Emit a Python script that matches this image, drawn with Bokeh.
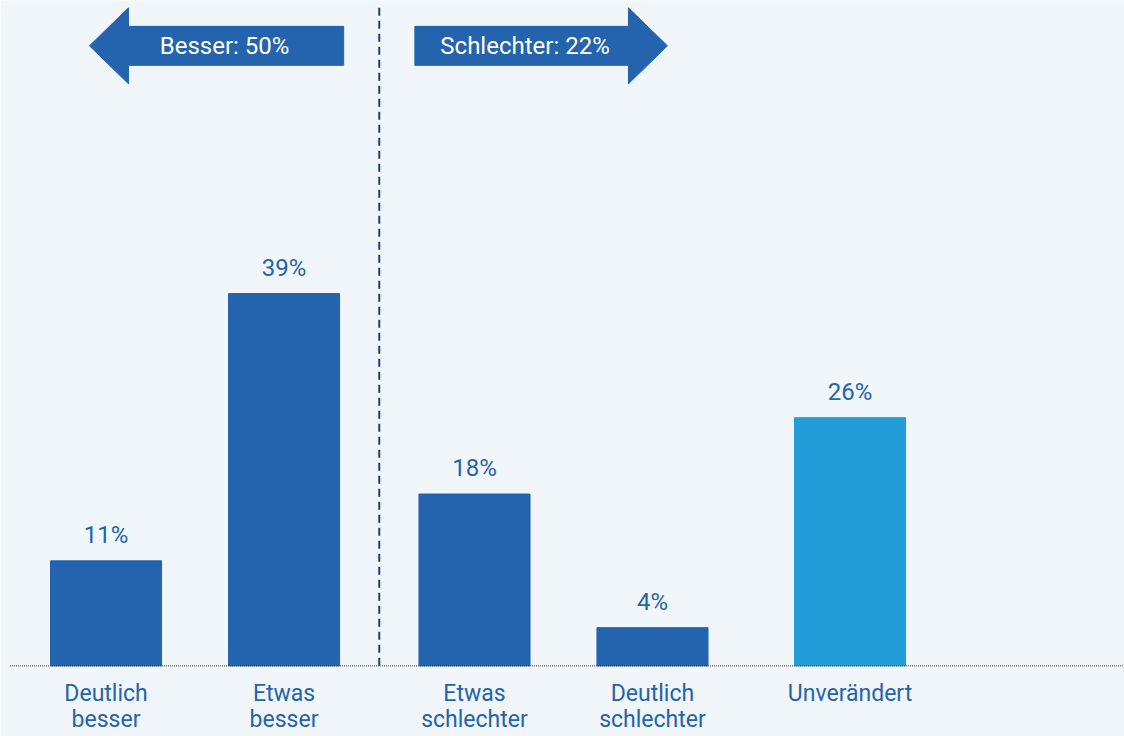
from bokeh.plotting import figure
from bokeh.models import Range1d, ColumnDataSource
from bokeh.core.properties import value
from bokeh.embed import file_html
from bokeh.resources import INLINE

# ---- data ----
categories = ["Deutlich\nbesser", "Etwas\nbesser", "Etwas\nschlechter", "Deutlich\nschlechter", "Unverändert"]
shares = [11, 39, 18, 4, 26]
x_pos = [0.0, 1.0, 2.07, 3.07, 4.18]
bar_colors = ["#2463AD", "#2463AD", "#2463AD", "#2463AD", "#229DD8"]
value_labels = ["11%", "39%", "18%", "4%", "26%"]
summary_labels = ["Besser: 50%", "Schlechter: 22%"]

BG = "#F1F6FB"
DARK = "#2463AD"
FONT = "Roboto"

p = figure(width=1124, height=736, output_backend="svg", toolbar_location=None,
           x_range=Range1d(-0.593, 5.722), y_range=Range1d(-7.4, 69.7),
           min_border=0, background_fill_color=BG, border_fill_color=BG)
p.axis.visible = False
p.grid.visible = False
p.outline_line_color = None

src = ColumnDataSource(dict(x=x_pos, top=shares, color=bar_colors, lab=value_labels, cat=categories))
bar_w = 0.624
p.vbar(x="x", top="top", bottom=0, width=bar_w, color="color", source=src)

# baseline
p.line(x=[x_pos[0] - 0.54, 5.722], y=[0, 0], line_color="#333333", line_width=1, line_dash="1 1")

# divider
div_x = (x_pos[1] + x_pos[2]) / 2
p.line(x=[div_x, div_x], y=[0, 69.2], line_color="#2B3A6E", line_width=2, line_dash="8 5")

# value labels
p.text(x="x", y="top", text="lab", source=src, text_align="center", text_baseline="bottom",
       y_offset=-12, text_font=value(FONT), text_font_size="24px", text_color=DARK)

# category labels
p.text(x="x", y=-1.5, text="cat", source=src, text_align="center", text_baseline="top",
       text_font=value(FONT), text_font_size="23px", text_color=DARK, text_line_height=0.95)

# arrows
yc = 64.95
sh = 2.04
hh = 3.98
l_tip, l_base, l_end = x_pos[0] - 0.093, x_pos[0] + 0.126, div_x - 0.2
r_start, r_base, r_tip = div_x + 0.2, div_x + 1.4, div_x + 1.619
p.patch(x=[l_tip, l_base, l_base, l_end, l_end, l_base, l_base],
        y=[yc, yc + hh, yc + sh, yc + sh, yc - sh, yc - sh, yc - hh], color=DARK)
p.patch(x=[r_tip, r_base, r_base, r_start, r_start, r_base, r_base],
        y=[yc, yc + hh, yc + sh, yc + sh, yc - sh, yc - sh, yc - hh], color=DARK)
p.text(x=[0.666, 2.354], y=[yc, yc], text=summary_labels, text_align="center",
       text_baseline="middle", text_font=value(FONT), text_font_size="24px", text_color="white")

open("out.html", "w").write(file_html(p, INLINE))
